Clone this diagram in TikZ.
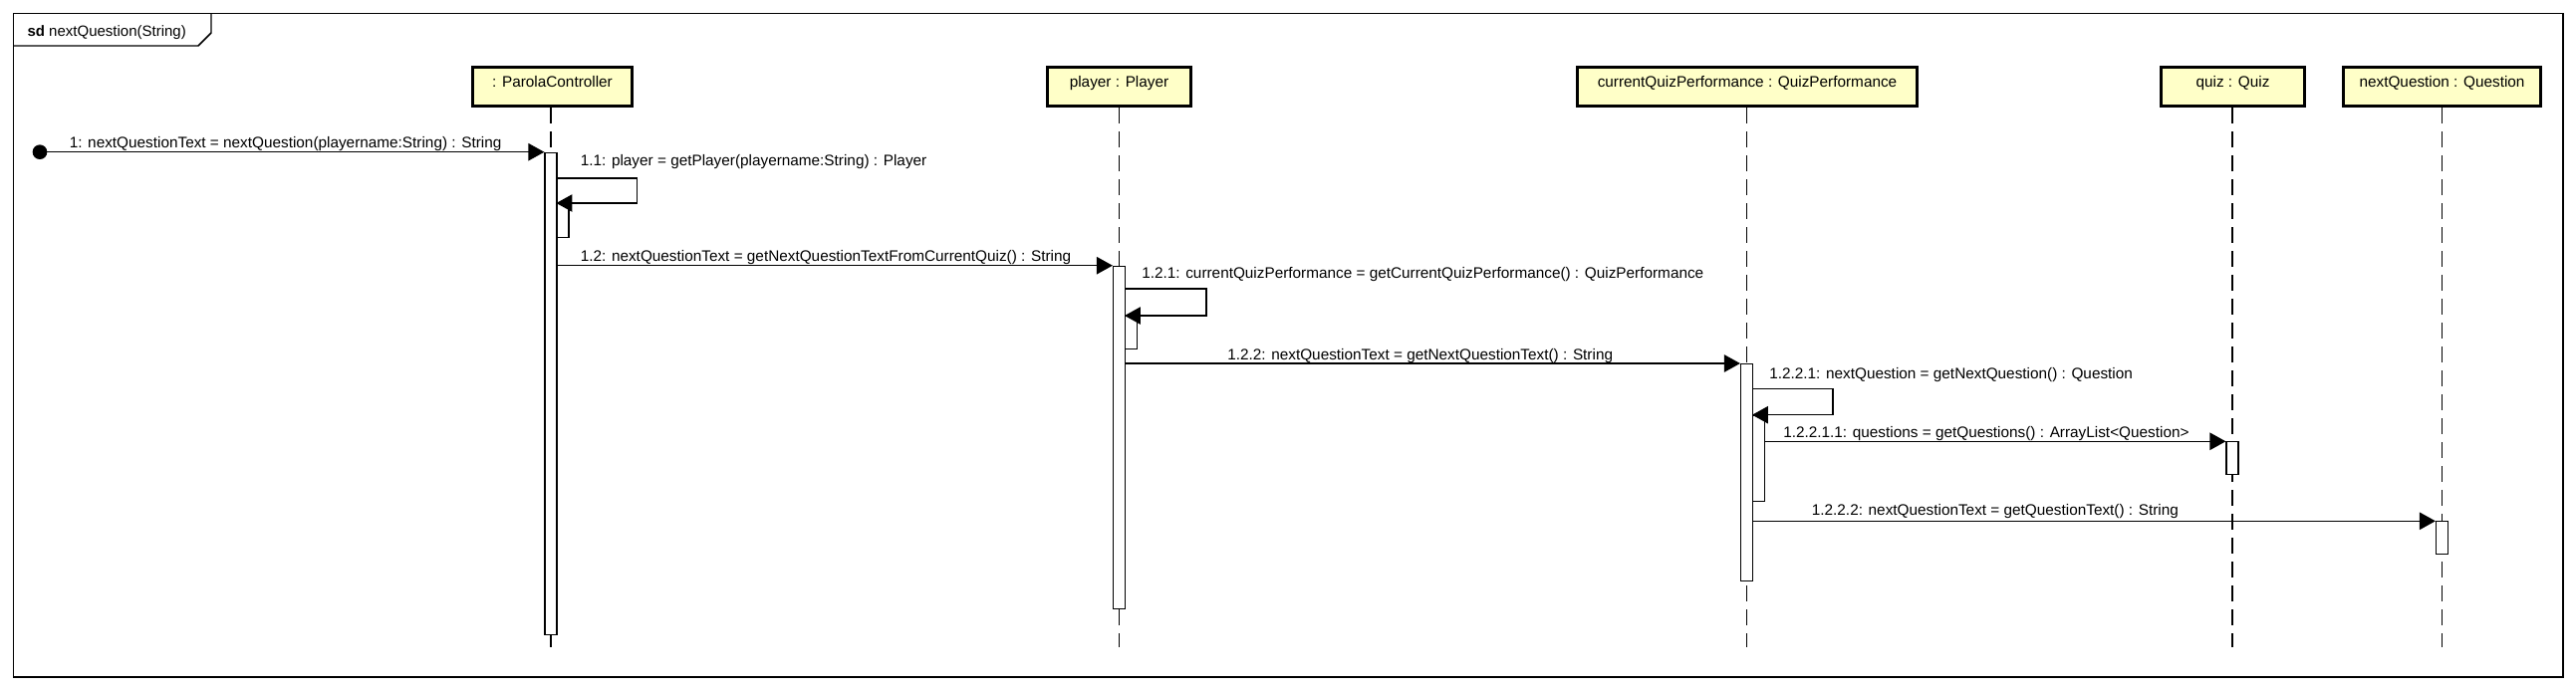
\documentclass[tikz,border=0pt]{standalone}
\usepackage{fontspec}
\setmainfont{Liberation Sans}
\usetikzlibrary{arrows.meta}
\definecolor{headfill}{RGB}{255,255,200}
\begin{document}
\begin{tikzpicture}[x=0.75pt,y=-0.75pt,
  every node/.style={font=\fontsize{11.5}{13}\selectfont},
  head/.style={draw, line width=2.4pt, fill=headfill, minimum height=29.25pt, inner sep=0pt, text height=7pt, text depth=6pt},
  act/.style={draw, line width=0.85pt, fill=white, minimum width=9pt, inner sep=0pt, anchor=north},
  lifeline/.style={line width=0.9pt, dash pattern=on 12pt off 6pt},
  msg/.style={line width=1.1pt, -{Triangle[length=12pt,width=13pt]}},
  lbl/.style={anchor=base west, inner sep=0pt},
  framel/.style={line width=1.1pt},
]
\useasboundingbox (0,0) rectangle (2586,693);

% frame
\draw[framel] (13.3,13.3) rectangle (2573,680);
\draw[framel] (13.3,46) -- (199,46) -- (212,33) -- (212,13.3);
\node[lbl, font=\fontsize{11.25}{13}\selectfont] (title) at (27.3,36.7) {\textbf{sd} nextQuestion(String)};

% lifeline heads
\node[head, minimum width=120pt] (hPC) at (554.5,87) {: ParolaController};
\node[head, minimum width=108pt] (hPl) at (1123.5,87) {player : Player};
\node[head, minimum width=255.75pt] (hQP) at (1754,87) {currentQuizPerformance : QuizPerformance};
\node[head, minimum width=108pt] (hQz) at (2241.5,87) {quiz : Quiz};
\node[head, minimum width=148.5pt] (hNQ) at (2451.5,87) {nextQuestion : Question};

\coordinate (bottom) at (0,650);

% lifeline x positions
\coordinate (xPC) at (553,0);
\coordinate (xPl) at (1123.5,0);
\coordinate (xQP) at (1753.5,0);
\coordinate (xQz) at (2241,0);
\coordinate (xNQ) at (2451.5,0);

% lifelines
\draw[lifeline] (hPC.south -| xPC) -- (bottom -| xPC);
\draw[lifeline] (hPl.south -| xPl) -- (bottom -| xPl);
\draw[lifeline] (hQP.south -| xQP) -- (bottom -| xQP);
\draw[lifeline] (hQz.south -| xQz) -- (bottom -| xQz);
\draw[lifeline] (hNQ.south -| xNQ) -- (bottom -| xNQ);

% activations
\node[act, minimum height={484*0.75pt}] (aPC) at (553,152.7) {};
\node[act, minimum height={34.3*0.75pt}] (aPCn) at (565,204) {};
\node[act, minimum height={344*0.75pt}] (aPl) at (1123.5,266.7) {};
\node[act, minimum height={33*0.75pt}] (aPln) at (1135.5,317) {};
\node[act, minimum height={218*0.75pt}] (aQP) at (1753.5,365) {};
\node[act, minimum height={86.6*0.75pt}] (aQPn) at (1765.5,416.7) {};
\node[act, minimum height={32.7*0.75pt}] (aQz) at (2241,443.3) {};
\node[act, minimum height={32.7*0.75pt}] (aNQ) at (2451.5,523.3) {};

% start
\node[circle, fill=black, minimum size=11pt, inner sep=0pt] (start) at (40,152.7) {};

% self-message corners
\coordinate (c11) at (639.3,179);
\coordinate (c121) at (1211,290);
\coordinate (c1221) at (1840,390.7);

% messages
\draw[msg] (start.center) -- (aPC.north west);
\draw[msg] (aPC.east |- c11) -- (c11) |- (aPCn.north west);
\draw[msg] (aPl.north west -| aPC.east) -- (aPl.north west);
\draw[msg] (aPl.east |- c121) -- (c121) |- (aPln.north west);
\draw[msg] (aQP.north west -| aPl.east) -- (aQP.north west);
\draw[msg] (aQP.east |- c1221) -- (c1221) |- (aQPn.north west);
\draw[msg] (aQz.north west -| aQPn.east) -- (aQz.north west);
\draw[msg] (aNQ.north west -| aQP.east) -- (aNQ.north west);

% labels
\node[lbl] (t1) at (69.5,148) {1: nextQuestionText = nextQuestion(playername:String) : String};
\node[lbl] (t11) at (582.5,166.7) {1.1: player = getPlayer(playername:String) : Player};
\node[lbl] (t12) at (582.5,262) {1.2: nextQuestionText = getNextQuestionTextFromCurrentQuiz() : String};
\node[lbl] (t121) at (1146,279) {1.2.1: currentQuizPerformance = getCurrentQuizPerformance() : QuizPerformance};
\node[lbl] (t122) at (1232,361.7) {1.2.2: nextQuestionText = getNextQuestionText() : String};
\node[lbl] (t1221) at (1776,380.7) {1.2.2.1: nextQuestion = getNextQuestion() : Question};
\node[lbl] (t12211) at (1790,439) {1.2.2.1.1: questions = getQuestions() : ArrayList<Question>};
\node[lbl] (t1222) at (1818.6,517.3) {1.2.2.2: nextQuestionText = getQuestionText() : String};
\end{tikzpicture}
\end{document}
